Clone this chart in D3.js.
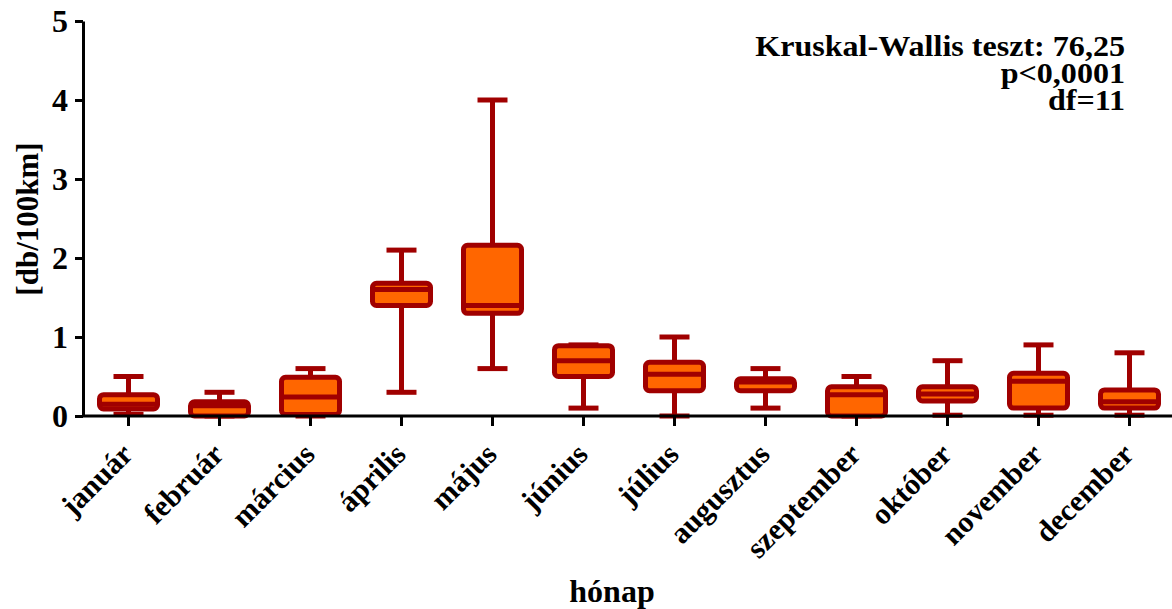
<!DOCTYPE html>
<html>
<head>
<meta charset="utf-8">
<script src="https://cdn.jsdelivr.net/npm/d3@7"></script>
<style>
  body { margin: 0; background: #fff; }
</style>
</head>
<body>
<div id="chart"></div>
<script>
// months and box statistics (db/100km)
let months = ["január", "február", "március", "április", "május", "június",
  "július", "augusztus", "szeptember", "október", "november", "december"];
let mins    = [0.02, 0.00, 0.00, 0.30, 0.60, 0.10, 0.00, 0.10, 0.00, 0.01, 0.01, 0.01];
let q1s     = [0.09, 0.00, 0.02, 1.40, 1.30, 0.50, 0.32, 0.32, 0.00, 0.19, 0.10, 0.10];
let medians = [0.15, 0.13, 0.24, 1.60, 1.40, 0.70, 0.53, 0.43, 0.27, 0.28, 0.44, 0.18];
let q3s     = [0.27, 0.18, 0.49, 1.68, 2.16, 0.89, 0.68, 0.47, 0.37, 0.37, 0.54, 0.33];
let maxs    = [0.50, 0.30, 0.60, 2.10, 4.00, 0.90, 1.00, 0.60, 0.50, 0.70, 0.90, 0.80];
let yTicks  = [0, 1, 2, 3, 4, 5];
let statLines = ["Kruskal-Wallis teszt: 76,25", "p<0,0001", "df=11"];

let width = 1172;
let height = 609;
let plotLeft = 83;
let plotTop = 21;
let plotBottom = 416;

let boxFill = "#ff6600";
let boxStroke = "#a00000";
let serif = "'Liberation Serif', 'Times New Roman', Times, serif";

let svg = d3.select("#chart")
  .append("svg")
  .attr("width", width)
  .attr("height", height);

let xScale = d3.scaleBand().domain(months).range([plotLeft, plotLeft + 91 * 12]);
let yScale = d3.scaleLinear().domain([0, 5]).range([plotBottom, plotTop]);

let data = months.map(function(m, i) {
  return { month: m, min: mins[i], q1: q1s[i], med: medians[i], q3: q3s[i], max: maxs[i] };
});

let boxW = 58;
let capW = 30;

let groups = svg.selectAll("g.box")
  .data(data)
  .enter()
  .append("g")
  .attr("class", "box")
  .attr("transform", function(d) {
    return "translate(" + (xScale(d.month) + xScale.bandwidth() / 2) + ",0)";
  });

// whiskers
groups.append("line")
  .attr("x1", 0).attr("x2", 0)
  .attr("y1", function(d) { return yScale(d.min); })
  .attr("y2", function(d) { return yScale(d.max); })
  .attr("stroke", boxStroke)
  .attr("stroke-width", 5);

groups.append("line")
  .attr("x1", -capW / 2).attr("x2", capW / 2)
  .attr("y1", function(d) { return yScale(d.max); })
  .attr("y2", function(d) { return yScale(d.max); })
  .attr("stroke", boxStroke)
  .attr("stroke-width", 5);

groups.append("line")
  .attr("x1", -capW / 2).attr("x2", capW / 2)
  .attr("y1", function(d) { return yScale(d.min); })
  .attr("y2", function(d) { return yScale(d.min); })
  .attr("stroke", boxStroke)
  .attr("stroke-width", 5);

// boxes
groups.append("rect")
  .attr("x", -boxW / 2)
  .attr("width", boxW)
  .attr("y", function(d) { return yScale(d.q3); })
  .attr("height", function(d) { return yScale(d.q1) - yScale(d.q3); })
  .attr("rx", 4)
  .attr("fill", boxFill)
  .attr("stroke", boxStroke)
  .attr("stroke-width", 5);

groups.append("line")
  .attr("x1", -boxW / 2).attr("x2", boxW / 2)
  .attr("y1", function(d) { return yScale(d.med); })
  .attr("y2", function(d) { return yScale(d.med); })
  .attr("stroke", boxStroke)
  .attr("stroke-width", 5);

// axes
let yAxis = d3.axisLeft(yScale)
  .tickValues(yTicks)
  .tickFormat(d3.format("d"))
  .tickSize(8)
  .tickSizeOuter(0)
  .tickPadding(7);
let yG = svg.append("g")
  .attr("transform", "translate(" + plotLeft + ",0)")
  .call(yAxis);
yG.select(".domain").attr("stroke", "#000").attr("stroke-width", 3);
yG.selectAll(".tick line").attr("stroke", "#000").attr("stroke-width", 3);
yG.selectAll(".tick text").attr("dy", "0.34em").style("font-size", "32px");

let xAxis = d3.axisBottom(xScale).tickSize(10).tickSizeOuter(0);
let xG = svg.append("g")
  .attr("transform", "translate(0," + plotBottom + ")")
  .call(xAxis);
xG.select(".domain").attr("d", "M" + plotLeft + ",0H" + width).attr("stroke", "#000").attr("stroke-width", 3);
xG.selectAll(".tick line").attr("stroke", "#000").attr("stroke-width", 3);
xG.selectAll(".tick text")
  .attr("text-anchor", "end")
  .attr("y", 0)
  .attr("dy", 0)
  .attr("transform", "translate(6,40) rotate(-45)")
  .style("font-size", "30px");

// axis titles
svg.append("text")
  .attr("transform", "translate(38,219) rotate(-90)")
  .attr("text-anchor", "middle")
  .style("font-size", "31px")
  .text("[db/100km]");

svg.append("text")
  .attr("x", 612)
  .attr("y", 602)
  .attr("text-anchor", "middle")
  .style("font-size", "32px")
  .text("hónap");

// test statistics, slightly stretched sideways like the original
svg.append("g")
  .selectAll("text")
  .data(statLines)
  .enter()
  .append("text")
  .attr("transform", function(d, i) {
    return "translate(1125," + (56 + i * 27) + ") scale(1.07,1)";
  })
  .attr("text-anchor", "end")
  .style("font-size", "30px")
  .text(function(d) { return d; });

svg.selectAll("text")
  .style("font-family", serif)
  .style("font-weight", "bold")
  .style("fill", "#000");
</script>
</body>
</html>
